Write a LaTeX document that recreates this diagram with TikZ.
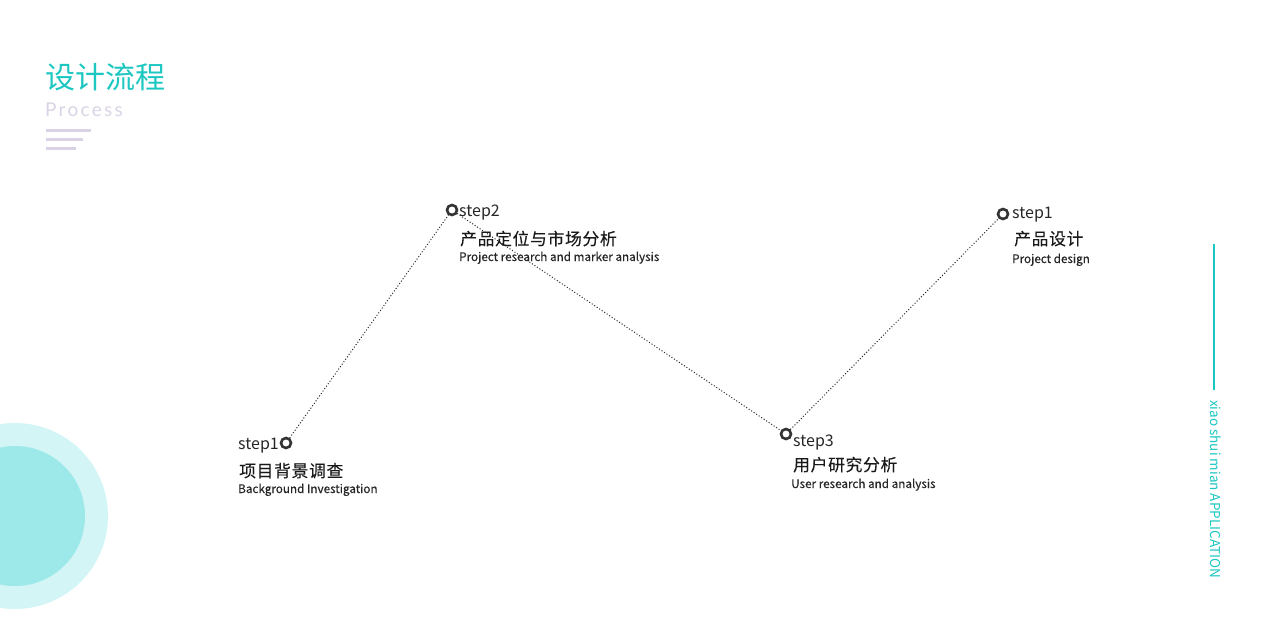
\documentclass[tikz,border=0pt]{standalone}
\usepackage{fontspec}
\setmainfont{Noto Sans CJK SC}
\newfontfamily\latofont[LetterSpace=12]{Lato}
\newfontfamily\medfont[FakeBold=0.35]{Noto Sans CJK SC}
\newfontfamily\cnfont[FakeBold=0.15, LetterSpace=4]{Noto Sans CJK SC}
\usetikzlibrary{positioning}
\definecolor{teal}{HTML}{1CC7C1}
\definecolor{lilac}{HTML}{DAD3E5}
\definecolor{ringgray}{HTML}{333333}
\definecolor{paleaqua}{HTML}{D3F5F5}
\definecolor{aqua}{HTML}{9DE8E8}
\begin{document}
\begin{tikzpicture}[x=1pt, y=-1pt,
    marker/.style={circle, draw=ringgray, line width=2.6pt, fill=white, minimum size=10pt, inner sep=0pt},
    steplabel/.style={font=\fontsize{16}{16}\selectfont, text=black!85, inner sep=0pt},
    cnlabel/.style={font=\cnfont\fontsize{16.8}{16.8}\selectfont, text=black!90, inner sep=0pt, anchor=base west},
    enlabel/.style={font=\medfont\fontsize{11.7}{12}\selectfont, text=black!85, inner sep=0pt, anchor=base west},
    link/.style={dotted, line width=1pt, black!85}]
    % canvas: 1 unit = 1 px of the 1280x640 frame
    \useasboundingbox (0,0) rectangle (1280,640);
    \clip (0,0) rectangle (1280,640);
    % corner discs, bottom left
    \fill[paleaqua] (15,516) circle (93);
    \fill[aqua] (15,516) circle (70);
    % heading block
    \node[anchor=base west, inner sep=0pt, text=teal, font=\fontsize{30}{30}\selectfont] (title) at (45,88) {设计流程};
    \node[anchor=base west, inner sep=0pt, text=lilac, font=\latofont\fontsize{19}{19}\selectfont] (sub) at (45,116) {Process};
    \foreach \y/\len in {130/45, 139/37, 148/30} {
        \fill[lilac] (46,{\y-1.5}) rectangle ({46+\len},{\y+1.5});
    }
    % step markers
    \node[marker] (m1) at (286,443) {};
    \node[marker] (m2) at (452,210) {};
    \node[marker] (m3) at (786,434) {};
    \node[marker] (m4) at (1003,214) {};
    % dotted path between the steps
    \draw[link] (m1) -- (m2);
    \draw[link] (m2) -- (m3);
    \draw[link] (m3) -- (m4);
    % step 1 (left)
    \node[steplabel, anchor=base east] (s1) at (279,449) {step1};
    \node[cnlabel] (c1) at (239,477) {项目背景调查};
    \node[enlabel] (e1) at (238,493) {Background Investigation};
    % step 2
    \node[steplabel, anchor=base west] (s2) at (459,216) {step2};
    \node[cnlabel] (c2) at (460,245) {产品定位与市场分析};
    \node[enlabel] (e2) at (459,261) {Project research and marker analysis};
    % step 3
    \node[steplabel, anchor=base west] (s3) at (793,446) {step3};
    \node[cnlabel] (c3) at (793,471) {用户研究分析};
    \node[enlabel] (e3) at (791,488) {User research and analysis};
    % step 1 (right)
    \node[steplabel, anchor=base west] (s4) at (1012,218) {step1};
    \node[cnlabel] (c4) at (1014,245) {产品设计};
    \node[enlabel] (e4) at (1012,263) {Project design};
    % right edge tag
    \coordinate (bartop) at (1214,244);
    \coordinate (barbot) at (1214,390);
    \draw[teal, line width=1.6pt] (bartop) -- (barbot);
    \node[rotate=-90, anchor=base west, inner sep=0pt, text=teal, font=\fontsize{13.5}{13.5}\selectfont] (tag) at (1210,400) {xiao shui mian APPLICATION};
\end{tikzpicture}
\end{document}
